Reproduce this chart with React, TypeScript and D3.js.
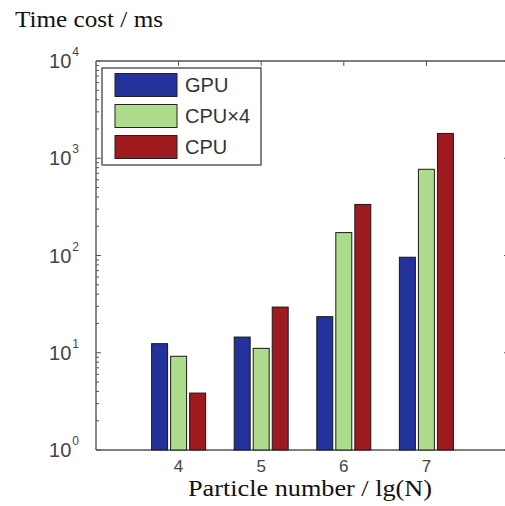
import React from 'react';
import * as d3 from 'd3';

const categories = [4, 5, 6, 7];
const seriesNames = ['GPU', 'CPU×4', 'CPU'];
const gpu = [12.4, 14.5, 23.5, 96];
const cpu4 = [9.2, 11.1, 172, 770];
const cpu = [3.85, 29.5, 335, 1800];
const yTickExponents = [0, 1, 2, 3, 4];

const colors = ['#23319a', '#acdc8c', '#9e1a1e'];

const W = 505;
const H = 506;
const margin = { top: 61, right: -4, bottom: 56, left: 96 };

export default function App() {
  const series = [gpu, cpu4, cpu];

  const x = d3.scaleLinear().domain([3, 8]).range([margin.left, W - margin.right]);
  const y = d3.scaleLog().domain([1, 1e4]).range([H - margin.bottom, margin.top]);
  const inner = d3.scaleBand<string>().domain(seriesNames).range([-27, 27]).paddingInner(0.16);

  const x0 = x(3);
  const x1 = x(8);
  const y0 = y(1);
  const y1 = y(1e4);
  const axisColor = '#555';

  const allTicks = y.ticks();
  const minor = allTicks.filter(t => !yTickExponents.some(e => Math.abs(t - Math.pow(10, e)) < 1e-9));

  return (
    <svg width={W} height={H} style={{ position: 'absolute', left: 0, top: 0, background: '#fff' }}>
      <text x={15} y={27} fontFamily="Liberation Serif, Times New Roman, serif" fontSize={23}
        textLength={148} lengthAdjust="spacingAndGlyphs" fill="#111">
        Time cost / ms
      </text>

      {/* axis box */}
      <g stroke={axisColor} strokeWidth={1.4} fill="none">
        <line x1={x0} y1={y0} x2={x1} y2={y0} />
        <line x1={x0} y1={y1} x2={x1} y2={y1} />
        <line x1={x0} y1={y0} x2={x0} y2={y1} />
        <line x1={x1} y1={y0} x2={x1} y2={y1} />
      </g>

      {/* ticks */}
      <g stroke={axisColor} strokeWidth={1}>
        {yTickExponents.map(e => (
          <g key={'M' + e}>
            <line x1={x0} x2={x0 + 5} y1={y(Math.pow(10, e))} y2={y(Math.pow(10, e))} />
            <line x1={x1} x2={x1 - 5} y1={y(Math.pow(10, e))} y2={y(Math.pow(10, e))} />
          </g>
        ))}
        {minor.map(t => (
          <g key={'m' + t}>
            <line x1={x0} x2={x0 + 3} y1={y(t)} y2={y(t)} />
            <line x1={x1} x2={x1 - 3} y1={y(t)} y2={y(t)} />
          </g>
        ))}
        {categories.map(c => (
          <g key={'x' + c}>
            <line x1={x(c)} x2={x(c)} y1={y1} y2={y1 + 5} />
            <line x1={x(c)} x2={x(c)} y1={y0} y2={y0 - 5} />
          </g>
        ))}
      </g>

      {/* y tick labels */}
      <g fontFamily="Liberation Sans, Arial, sans-serif" fill="#444">
        {yTickExponents.map(e => (
          <text key={e} x={79} y={y(Math.pow(10, e)) + 7} fontSize={20} textAnchor="end">
            10
            <tspan fontSize={12} dx={1} dy={-12}>{e}</tspan>
          </text>
        ))}
      </g>

      {/* x tick labels */}
      <g fontFamily="Liberation Sans, Arial, sans-serif" fill="#444" fontSize={17} textAnchor="middle">
        {categories.map(c => (
          <text key={c} x={x(c)} y={472}>{c}</text>
        ))}
      </g>

      <text x={310} y={496} textAnchor="middle" fontFamily="Liberation Serif, Times New Roman, serif" fontSize={24}
        textLength={244} lengthAdjust="spacingAndGlyphs" fill="#111">
        Particle number / lg(N)
      </text>

      {/* bars */}
      <g stroke="#1a1a1a" strokeWidth={1}>
        {series.map((vals, si) =>
          vals.map((v, ci) => (
            <rect
              key={si + '-' + ci}
              x={x(categories[ci]) + (inner(seriesNames[si]) as number)}
              y={y(v)}
              width={inner.bandwidth()}
              height={y0 - y(v)}
              fill={colors[si]}
            />
          ))
        )}
      </g>

      {/* legend */}
      <g>
        <rect x={102} y={68} width={159} height={97} fill="#fff" stroke="#444" strokeWidth={1.3} />
        {seriesNames.map((name, i) => (
          <g key={name} transform={`translate(0,${85 + i * 31})`}>
            <rect x={115} y={-11.5} width={62} height={23} fill={colors[i]} stroke="#222" strokeWidth={1} />
            <text x={185} y={7} fontFamily="Liberation Sans, Arial, sans-serif" fontSize={20} fill="#333">
              {name}
            </text>
          </g>
        ))}
      </g>
    </svg>
  );
}
